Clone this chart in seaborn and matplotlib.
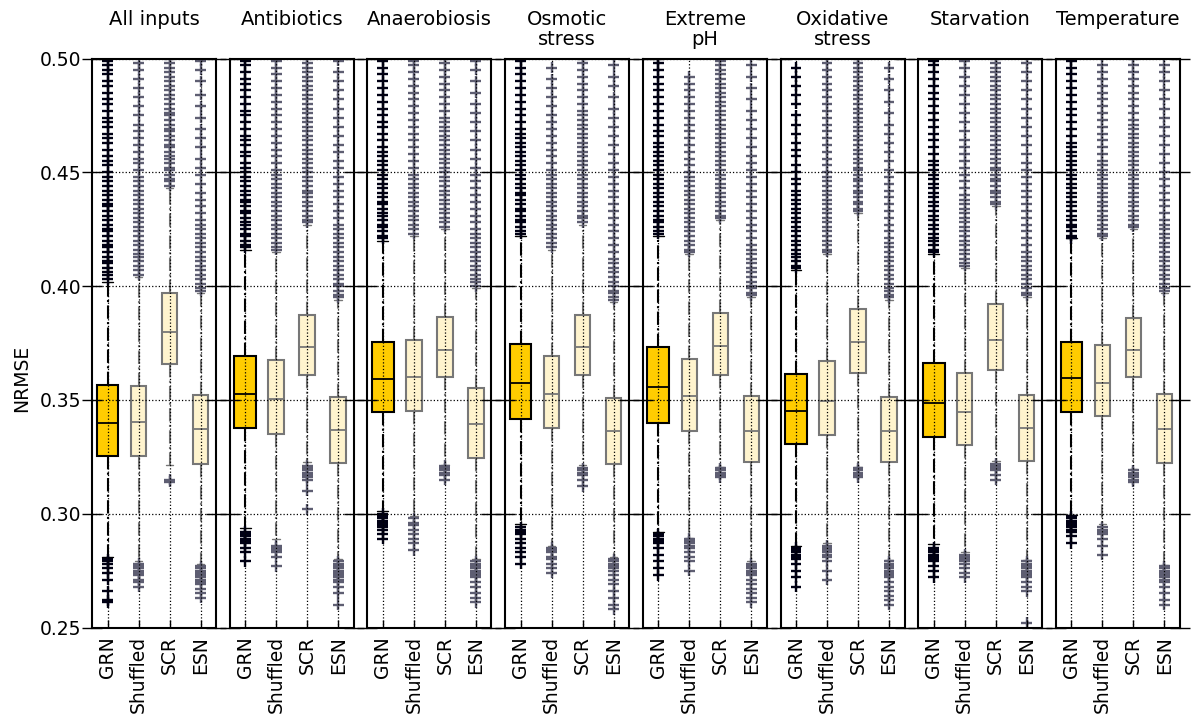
import matplotlib
matplotlib.use("Agg")
import matplotlib.pyplot as plt
import seaborn as sns
import pandas as pd

conditions = ["All inputs", "Antibiotics", "Anaerobiosis", "Osmotic\nstress",
              "Extreme\npH", "Oxidative\nstress", "Starvation", "Temperature"]
models = ["GRN", "Shuffled", "SCR", "ESN"]
yticks = [0.25, 0.30, 0.35, 0.40, 0.45, 0.50]

# Box statistics per condition, columns in the order of `models`
q1 = [[0.3252, 0.3252, 0.3657, 0.3220],
      [0.3378, 0.3350, 0.3608, 0.3222],
      [0.3445, 0.3450, 0.3600, 0.3245],
      [0.3417, 0.3375, 0.3608, 0.3220],
      [0.3400, 0.3362, 0.3608, 0.3225],
      [0.3308, 0.3345, 0.3620, 0.3225],
      [0.3337, 0.3300, 0.3630, 0.3230],
      [0.3448, 0.3428, 0.3599, 0.3222]]
median = [[0.3399, 0.3402, 0.3797, 0.3372],
          [0.3528, 0.3505, 0.3733, 0.3367],
          [0.3592, 0.3600, 0.3720, 0.3395],
          [0.3575, 0.3528, 0.3733, 0.3362],
          [0.3558, 0.3517, 0.3737, 0.3363],
          [0.3450, 0.3497, 0.3753, 0.3362],
          [0.3488, 0.3447, 0.3762, 0.3375],
          [0.3595, 0.3575, 0.3719, 0.3373]]
q3 = [[0.3564, 0.3560, 0.3969, 0.3523],
      [0.3695, 0.3675, 0.3875, 0.3512],
      [0.3753, 0.3763, 0.3863, 0.3553],
      [0.3745, 0.3695, 0.3875, 0.3508],
      [0.3733, 0.3678, 0.3883, 0.3517],
      [0.3613, 0.3670, 0.3900, 0.3512],
      [0.3663, 0.3617, 0.3920, 0.3522],
      [0.3756, 0.3741, 0.3860, 0.3524]]
whisker_low = [[0.2810, 0.2790, 0.3213, 0.2780],
               [0.2935, 0.2890, 0.3225, 0.2800],
               [0.3010, 0.2990, 0.3215, 0.2800],
               [0.2955, 0.2860, 0.3215, 0.2810],
               [0.2920, 0.2895, 0.3205, 0.2790],
               [0.2860, 0.2870, 0.3205, 0.2795],
               [0.2865, 0.2830, 0.3230, 0.2795],
               [0.2995, 0.2955, 0.3195, 0.2775]]
whisker_high = [[0.402, 0.404, 0.443, 0.397],
                [0.416, 0.415, 0.427, 0.394],
                [0.420, 0.422, 0.425, 0.399],
                [0.422, 0.416, 0.427, 0.393],
                [0.422, 0.414, 0.429, 0.395],
                [0.407, 0.414, 0.432, 0.394],
                [0.414, 0.408, 0.435, 0.395],
                [0.421, 0.421, 0.425, 0.397]]

# Outlying runs (NRMSE in thousandths), one list per condition
grn_high = [
    [403, 405, 406, 408, 410, 411, 413, 415, 417, 418, 420, 422, 424, 425, 427, 429, 431, 433, 435, 436, 438, 440, 442, 444, 446, 448, 450, 453, 455, 457, 460, 463, 465, 467, 470, 472, 474, 477, 480, 482, 485, 488, 490, 493, 495, 497, 499],
    [417, 418, 420, 422, 423, 425, 427, 428, 430, 432, 433, 435, 437, 438, 440, 442, 444, 446, 448, 450, 452, 454, 457, 459, 462, 464, 466, 469, 472, 475, 477, 480, 483, 486, 489, 491, 494, 497, 499],
    [421, 422, 424, 426, 427, 429, 431, 432, 434, 436, 437, 439, 441, 443, 445, 447, 449, 451, 453, 455, 457, 459, 461, 464, 467, 470, 472, 475, 478, 481, 484, 487, 490, 493, 496, 499],
    [423, 424, 426, 428, 429, 431, 433, 434, 436, 438, 440, 441, 443, 445, 447, 449, 451, 453, 455, 457, 459, 461, 463, 465, 467, 469, 472, 475, 478, 481, 484, 487, 490, 493, 496, 499],
    [423, 424, 426, 428, 429, 431, 433, 435, 437, 439, 441, 443, 445, 447, 449, 451, 453, 455, 457, 459, 461, 463, 466, 468, 471, 474, 477, 480, 483, 486, 489, 492, 495, 498, 500],
    [408, 409, 411, 413, 414, 416, 418, 420, 422, 424, 426, 428, 430, 432, 434, 436, 438, 440, 442, 445, 447, 450, 453, 457, 460, 463, 467, 471, 475, 480, 484, 488, 492, 496],
    [415, 416, 418, 420, 421, 423, 425, 427, 429, 431, 433, 435, 437, 439, 441, 443, 445, 447, 449, 451, 453, 455, 458, 461, 464, 467, 470, 473, 476, 479, 482, 485, 488, 491, 494, 497, 499],
    [421, 422, 424, 426, 427, 429, 431, 433, 435, 437, 439, 441, 443, 445, 447, 449, 451, 453, 455, 457, 459, 461, 463, 466, 469, 472, 475, 478, 481, 484, 487, 490, 493, 496, 499],
]
grn_low = [
    [280, 279, 278, 276, 274, 271, 266, 262, 261],
    [292, 291, 290, 289, 288, 287, 285, 283, 279],
    [300, 299, 298, 297, 296, 295, 294, 293, 291, 289],
    [294, 293, 292, 291, 289, 287, 285, 283, 281, 278],
    [291, 290, 289, 288, 287, 285, 282, 279, 276, 273],
    [285, 284, 283, 282, 281, 280, 278, 275, 272, 268],
    [285, 284, 283, 282, 281, 280, 279, 277, 275, 272],
    [299, 298, 297, 296, 295, 294, 293, 292, 290, 287],
]
shuffled_high = [
    [405, 407, 409, 411, 413, 414, 416, 418, 420, 422, 424, 426, 428, 430, 432, 434, 436, 438, 440, 442, 444, 446, 448, 451, 454, 456, 459, 462, 465, 468, 471, 475, 479, 483, 487, 491, 495, 498],
    [416, 417, 419, 421, 423, 425, 427, 429, 431, 433, 435, 437, 439, 441, 443, 445, 447, 449, 451, 454, 457, 460, 463, 466, 469, 472, 475, 478, 481, 484, 487, 490, 493, 496, 499],
    [423, 425, 427, 429, 431, 433, 435, 437, 439, 441, 443, 445, 447, 449, 452, 455, 458, 461, 464, 467, 470, 473, 476, 479, 482, 485, 488, 491, 494, 497, 499],
    [417, 419, 421, 423, 425, 427, 429, 431, 433, 435, 437, 439, 441, 443, 445, 447, 449, 451, 454, 457, 460, 463, 466, 469, 472, 475, 479, 483, 487, 491, 496],
    [415, 416, 418, 420, 422, 424, 426, 428, 430, 432, 434, 436, 438, 440, 442, 444, 446, 448, 450, 453, 456, 459, 462, 465, 468, 471, 474, 477, 480, 483, 486, 489, 492],
    [415, 416, 418, 420, 422, 424, 426, 428, 430, 432, 434, 436, 438, 440, 442, 444, 446, 448, 450, 453, 456, 459, 462, 465, 468, 471, 474, 477, 480, 483, 486, 489, 492, 495, 498],
    [409, 410, 412, 414, 416, 418, 420, 422, 424, 426, 428, 430, 432, 434, 436, 438, 440, 443, 446, 449, 452, 455, 458, 461, 464, 468, 472, 476, 480, 484, 488, 492, 496, 499],
    [422, 423, 425, 427, 429, 431, 433, 435, 437, 439, 441, 443, 445, 447, 449, 451, 453, 455, 458, 461, 464, 467, 470, 473, 476, 479, 482, 485, 488, 491, 494, 497],
]
shuffled_low = [
    [278, 277, 276, 275, 274, 273, 271, 270, 268],
    [286, 285, 284, 283, 281, 277],
    [298, 296, 295, 293, 291, 289, 287, 284],
    [285, 284, 283, 281, 280, 278, 276, 274],
    [289, 288, 287, 286, 285, 283, 281, 279, 275],
    [286, 285, 284, 283, 282, 281, 279, 275, 271],
    [282, 281, 280, 279, 278, 276, 274, 272],
    [294, 293, 292, 291, 289, 286, 282],
]
scr_high = [
    [444, 446, 447, 449, 451, 452, 454, 456, 457, 459, 461, 462, 464, 466, 468, 469, 471, 473, 475, 476, 478, 480, 482, 484, 486, 488, 490, 492, 494, 496, 498, 500],
    [428, 429, 431, 433, 435, 437, 439, 441, 442, 444, 446, 448, 450, 452, 454, 456, 458, 460, 462, 464, 466, 468, 470, 472, 474, 476, 478, 480, 482, 484, 486, 488, 490, 492, 494, 496, 498, 500],
    [426, 428, 430, 432, 434, 436, 438, 440, 442, 444, 446, 448, 450, 452, 454, 456, 458, 460, 462, 464, 466, 468, 470, 472, 474, 477, 480, 483, 486, 489, 492, 495, 498, 500],
    [428, 430, 431, 433, 435, 437, 439, 441, 443, 445, 447, 449, 451, 453, 455, 457, 459, 461, 463, 465, 467, 469, 471, 473, 475, 477, 480, 483, 486, 489, 492, 495, 498, 500],
    [430, 431, 433, 435, 437, 439, 441, 443, 445, 447, 449, 451, 453, 455, 457, 459, 461, 463, 465, 467, 469, 471, 473, 475, 477, 479, 481, 483, 485, 487, 489, 491, 493, 495, 497, 499],
    [433, 434, 436, 437, 439, 441, 442, 444, 446, 447, 449, 451, 452, 454, 456, 458, 460, 462, 464, 466, 468, 470, 472, 474, 476, 478, 480, 482, 484, 486, 488, 490, 492, 494, 496, 498, 500],
    [436, 437, 439, 441, 442, 444, 446, 447, 449, 451, 452, 454, 456, 458, 460, 462, 464, 466, 468, 470, 472, 474, 476, 478, 480, 482, 484, 486, 488, 490, 492, 494, 496, 498, 500],
    [426, 427, 429, 431, 433, 435, 437, 439, 441, 443, 445, 447, 449, 451, 453, 455, 457, 459, 461, 463, 465, 467, 469, 471, 473, 476, 479, 482, 485, 488, 491, 494, 497, 500],
]
scr_low = [
    [315, 314],
    [321, 320, 319, 318, 317, 316, 315, 310, 302],
    [321, 320, 319, 318, 317, 315],
    [320, 319, 318, 317, 315, 312],
    [320, 319, 318, 317, 316],
    [320, 319, 318, 317, 316],
    [322, 321, 320, 319, 317, 315],
    [319, 318, 317, 316, 315, 314],
]
esn_high = [
    [398, 399, 401, 403, 405, 407, 409, 411, 413, 415, 417, 419, 421, 423, 425, 427, 429, 432, 435, 438, 441, 445, 449, 452, 456, 461, 465, 469, 474, 479, 484, 490, 495, 499],
    [395, 396, 398, 400, 401, 403, 405, 407, 409, 411, 413, 415, 417, 419, 421, 423, 425, 427, 430, 433, 436, 439, 442, 445, 448, 452, 455, 459, 462, 466, 470, 474, 478, 482, 486, 490, 494, 499],
    [400, 402, 403, 405, 407, 409, 411, 413, 415, 417, 419, 421, 423, 425, 428, 431, 434, 437, 440, 443, 446, 449, 452, 456, 460, 464, 468, 472, 476, 480, 485, 490, 495, 499],
    [394, 395, 397, 398, 400, 402, 404, 406, 408, 410, 412, 415, 418, 421, 424, 427, 430, 433, 436, 439, 442, 445, 448, 451, 454, 458, 462, 466, 470, 474, 478, 483, 488, 492, 497],
    [396, 397, 399, 400, 402, 404, 406, 408, 410, 412, 414, 416, 418, 421, 424, 427, 430, 433, 436, 439, 442, 445, 448, 451, 454, 457, 461, 465, 469, 473, 477, 482, 487, 492, 497],
    [395, 396, 398, 399, 401, 403, 405, 407, 409, 411, 413, 415, 417, 419, 421, 424, 427, 430, 433, 436, 439, 442, 445, 448, 451, 455, 459, 463, 467, 471, 476, 481, 486, 491, 496],
    [396, 397, 399, 401, 403, 405, 407, 409, 411, 413, 415, 418, 421, 424, 427, 430, 433, 436, 439, 442, 445, 448, 451, 454, 458, 462, 466, 470, 474, 478, 482, 486, 490, 494, 498],
    [398, 399, 401, 403, 405, 407, 409, 411, 413, 415, 417, 419, 421, 423, 425, 427, 429, 432, 435, 438, 441, 444, 447, 450, 454, 458, 462, 466, 470, 474, 478, 482, 486, 490, 494, 497],
]
esn_low = [
    [277, 276, 275, 274, 273, 272, 271, 270, 269, 267, 265, 263],
    [279, 278, 277, 276, 275, 274, 273, 272, 271, 270, 268, 265, 260],
    [279, 278, 277, 276, 275, 274, 273, 272, 270, 268, 265, 263, 261],
    [280, 279, 278, 277, 276, 275, 273, 271, 269, 266, 263, 260, 258],
    [278, 277, 276, 275, 274, 273, 271, 269, 267, 265, 263, 261],
    [279, 278, 277, 276, 275, 274, 273, 272, 270, 268, 266, 264, 262, 260],
    [279, 278, 277, 276, 275, 274, 273, 272, 270, 268, 266, 252],
    [277, 276, 275, 274, 273, 272, 271, 270, 268, 265, 262, 260],
]

outliers = {
    "GRN": (grn_high, grn_low),
    "Shuffled": (shuffled_high, shuffled_low),
    "SCR": (scr_high, scr_low),
    "ESN": (esn_high, esn_low),
}

GOLD = "#FFCC00"
CREAM = "#FFF4CE"
GREY_EDGE = "#777777"
FLIER_COLORS = {"GRN": "#000014", "Shuffled": "#5e5e72",
                "SCR": "#5e5e72", "ESN": "#5e5e72"}

sns.set_theme(style="white")
plt.rcParams["font.family"] = ["DejaVu Sans"]
plt.rcParams.update({"text.color": "black", "axes.labelcolor": "black",
                     "xtick.color": "black", "ytick.color": "black"})

W, H = 1191, 717
fig = plt.figure(figsize=(W / 100, H / 100), dpi=100)
left0, width, step = 92 / W, 124 / W, 137.7 / W
bottom, top = 1 - 627.5 / H, 1 - 58.5 / H

for i, cond in enumerate(conditions):
    ax = fig.add_axes([left0 + i * step, bottom, width, top - bottom])
    stats = [dict(med=median[i][j], q1=q1[i][j], q3=q3[i][j],
                  whislo=whisker_low[i][j], whishi=whisker_high[i][j],
                  fliers=[], label=models[j]) for j in range(4)]

    ax.bxp(stats[:1], positions=[1], widths=[0.7], patch_artist=True,
           showfliers=False,
           boxprops=dict(facecolor=GOLD, edgecolor="black", linewidth=1.5),
           medianprops=dict(color="black", linewidth=1.3),
           whiskerprops=dict(color="black", linestyle="-.", linewidth=1.5),
           capprops=dict(color="black", linewidth=1.0))
    ax.bxp(stats[1:], positions=[2, 3, 4], widths=[0.5, 0.5, 0.5],
           patch_artist=True, showfliers=False,
           boxprops=dict(facecolor=CREAM, edgecolor=GREY_EDGE, linewidth=1.5),
           medianprops=dict(color=GREY_EDGE, linewidth=1.3),
           whiskerprops=dict(color=GREY_EDGE, linestyle="-.", linewidth=1.5),
           capprops=dict(color=GREY_EDGE, linewidth=1.0))

    rows = []
    for j, m in enumerate(models):
        high, low = outliers[m]
        for v in high[i] + low[i]:
            rows.append({"pos": j + 1, "value": v / 1000.0, "model": m})
    df = pd.DataFrame(rows)
    sns.scatterplot(data=df, x="pos", y="value", hue="model",
                    palette=FLIER_COLORS, marker="+", s=62, linewidth=1.7,
                    legend=False, ax=ax, zorder=2)

    ax.set_xlim(0.5, 4.5)
    ax.set_ylim(0.25, 0.50)
    ax.set_xticks([1, 2, 3, 4])
    ax.set_xticklabels(models, rotation=90)
    ax.set_yticks(yticks)
    if i == 0:
        ax.set_yticklabels([f"{t:.2f}" for t in yticks])
    else:
        ax.set_yticklabels([])
    ax.set_xlabel("")
    ax.set_ylabel("")

    ax.grid(True, color="black", linestyle=":", linewidth=0.9)
    ax.set_axisbelow(False)
    for sp in ax.spines.values():
        sp.set_color("black")
        sp.set_linewidth(1.5)
    ax.tick_params(axis="y", which="major", left=True, right=True,
                   direction="inout", length=14, width=1.0, pad=1,
                   labelsize=13.5, colors="black")
    ax.tick_params(axis="x", which="major", bottom=True, top=False,
                   direction="in", length=6, width=1.0, pad=6,
                   labelsize=13.5, colors="black")

    cx = left0 + i * step + width / 2
    fig.text(cx, 1 - 10 / H, cond, ha="center", va="top", fontsize=14,
             linespacing=1.05)

fig.text(22 / W, 1 - 378 / H, "NRMSE", rotation=90, ha="center",
         va="center", fontsize=13.5)

fig.savefig("out.png", dpi=100)
